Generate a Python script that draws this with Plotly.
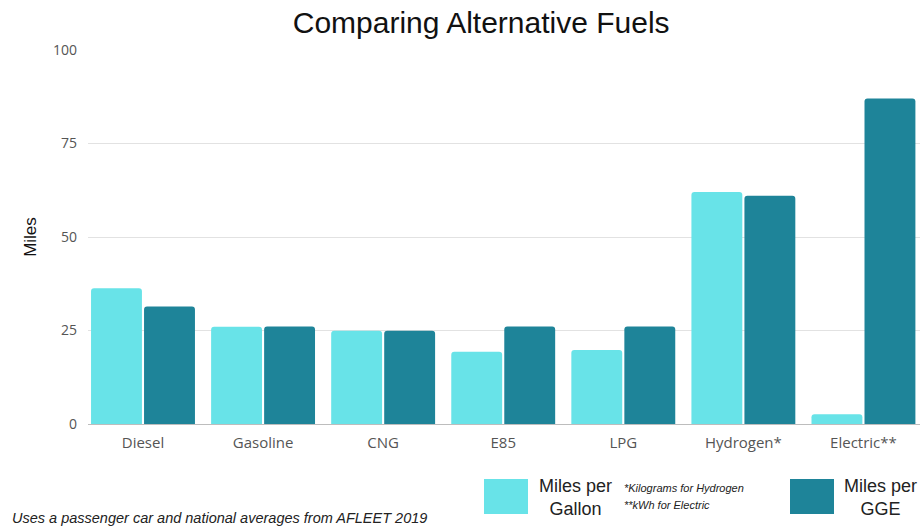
import plotly.graph_objects as go

# Fuel categories and fuel-economy values (miles)
fuels = ["Diesel", "Gasoline", "CNG", "E85", "LPG", "Hydrogen*", "Electric**"]
mpg = [36.3, 26.0, 24.9, 19.3, 19.8, 62.0, 2.6]
mpgge = [31.4, 26.1, 24.9, 26.1, 26.1, 61.0, 87.0]
y_ticks = [0, 25, 50, 75, 100]

LIGHT = "#68E3E8"
DARK = "#1E8499"

fig = go.Figure()
fig.add_trace(go.Bar(x=fuels, y=mpg, name="Miles per Gallon",
                     marker=dict(color=LIGHT, line=dict(width=0)), showlegend=False))
fig.add_trace(go.Bar(x=fuels, y=mpgge, name="Miles per GGE",
                     marker=dict(color=DARK, line=dict(width=0)), showlegend=False))

W, H = 920, 527
L, R, T, B = 88, 0, 50, 103
PW, PH = W - L - R, H - T - B

fig.update_layout(
    width=W, height=H,
    margin=dict(l=L, r=R, t=T, b=B),
    paper_bgcolor="white", plot_bgcolor="white",
    barmode="group", bargap=0.117, bargroupgap=0.04, barcornerradius=3,
    title=dict(text="Comparing Alternative Fuels", x=0.523, xanchor="center",
               y=1 - 22 / H, yanchor="middle",
               font=dict(family="Liberation Sans, Arial", size=30, color="#111")),
    font=dict(family="Open Sans", color="#444"),
    xaxis=dict(range=[-0.458, 6.471], showgrid=False, showline=False,
               ticks="", tickfont=dict(size=15, color="#555"),
               ticklabelstandoff=8),
    yaxis=dict(range=[0, 100], tickvals=y_ticks, showgrid=True,
               gridcolor="#E2E2E2", gridwidth=1, zeroline=True,
               zerolinecolor="#BDBDBD", zerolinewidth=1, showline=False,
               ticks="", tickfont=dict(size=14, color="#555"),
               ticklabelstandoff=10,
               title=dict(text="Miles", standoff=12,
                          font=dict(family="Liberation Sans, Arial", size=17, color="#111"))),
)

def fx(x):
    return (x - L) / PW

def fy(y):
    return (H - B - y) / PH

# Custom legend swatches below the plot
for x0, x1, col in [(484, 528, LIGHT), (790, 834, DARK)]:
    fig.add_shape(type="rect", xref="paper", yref="paper",
                  x0=fx(x0), x1=fx(x1), y0=fy(514), y1=fy(479),
                  line=dict(width=0), fillcolor=col)

def ann(text, x, y, size, xanchor="center", italic=False,
        family="Liberation Sans, Arial", color="#222", align="center"):
    fig.add_annotation(text=f"<i>{text}</i>" if italic else text,
                       xref="paper", yref="paper", x=fx(x), y=fy(y),
                       xanchor=xanchor, yanchor="middle", showarrow=False,
                       align=align, font=dict(family=family, size=size, color=color))

ann("Miles per<br>Gallon", 575, 498, 18)
ann("*Kilograms for Hydrogen", 622, 488, 11, xanchor="left", italic=True)
ann("**kWh for Electric", 622, 505, 11, xanchor="left", italic=True)
ann("Miles per<br>GGE", 880, 498, 18)
ann("Uses a passenger car and national averages from AFLEET 2019", 10, 518, 14.5,
    xanchor="left", italic=True)

fig.write_html("out.html")
